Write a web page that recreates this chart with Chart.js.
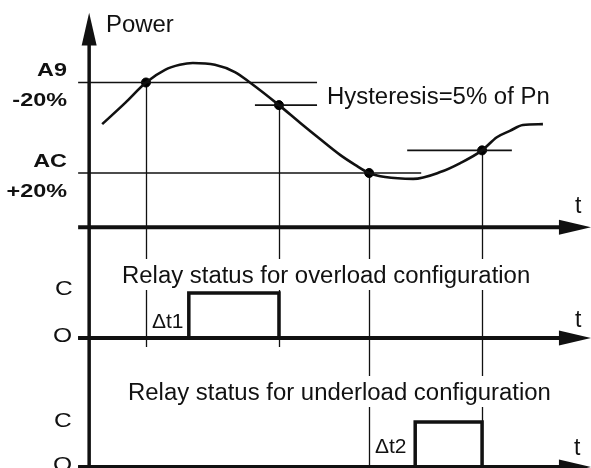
<!DOCTYPE html>
<html>
<head>
<meta charset="utf-8">
<script src="https://cdn.jsdelivr.net/npm/chart.js@4"></script>
<style>
  body { margin: 0; background: #fff; }
  #wrap { width: 591px; height: 468px; }
</style>
</head>
<body>
<div id="wrap"><canvas id="relayChart" width="591" height="468"></canvas></div>
<script>
// time axis (arbitrary units) and power in % of Pn
const timeMin = -18;
const timeMax = 100;
const powerTime = [2.4, 7.0, 11.15, 14.95, 17.9, 20.5, 24.9, 28.9, 31.9, 37.7, 41.9, 45.9, 49.9, 52.9, 55.7, 58.9, 64.5, 69.9, 73.9, 78.25, 81.2, 83.8, 86.4, 90.4];
const powerValues = [22.8, 27.5, 32.0, 34.8, 35.9, 36.3, 35.9, 34.3, 32.0, 27.0, 23.1, 19.5, 16.0, 13.8, 12.0, 11.1, 10.7, 12.2, 14.2, 17.0, 19.9, 21.3, 22.6, 22.8];

// setpoints
const setpointA9 = 32;
const setpointAC = 12;
const hysteresis = 5;
const thresholdValues = [setpointA9, setpointA9 - hysteresis, setpointAC, setpointAC + hysteresis];
const thresholdStart = [-2.4, 32.9, -2.4, 63.3];
const thresholdEnd = [45.3, 45.3, 66.1, 84.2];

// points where the curve crosses a threshold
const crossTime = [11.15, 37.7, 55.7, 78.25];
const crossValue = [32, 27, 12, 17];

// relay states (0 = O, 1 = C)
const overloadTime = [-2.4, 19.7, 19.7, 37.7, 37.7];
const overloadState = [0, 0, 1, 1, 0];
const underloadTime = [-2.4, 64.9, 64.9, 78.25, 78.25];
const underloadState = [0, 0, 1, 1, 0];

const ink = '#111';
const pts = (xs, ys) => xs.map((t, i) => ({ x: t, y: ys[i] }));

const thresholdSets = thresholdValues.map((v, i) => ({
  data: [{ x: thresholdStart[i], y: v }, { x: thresholdEnd[i], y: v }],
  yAxisID: 'yPower',
  showLine: true,
  borderColor: ink,
  borderWidth: 1.6,
  pointRadius: 0,
}));

// text helper, sx stretches the text horizontally
function label(ctx, text, x, y, font, align, sx, bg) {
  ctx.save();
  ctx.font = font;
  ctx.translate(x, y);
  ctx.scale(sx, 1);
  ctx.textAlign = align;
  ctx.textBaseline = 'alphabetic';
  if (bg) {
    const w = ctx.measureText(text).width;
    ctx.fillStyle = '#fff';
    ctx.fillRect(align === 'left' ? -2 : -w - 2, -24, w + 4, 31);
  }
  ctx.fillStyle = ink;
  ctx.fillText(text, 0, 0);
  ctx.restore();
}

function arrow(ctx, tipX, tipY, baseX, baseY, half) {
  const dx = tipX - baseX, dy = tipY - baseY;
  const len = Math.hypot(dx, dy);
  const nx = -dy / len * half, ny = dx / len * half;
  ctx.beginPath();
  ctx.moveTo(tipX, tipY);
  ctx.lineTo(baseX + nx, baseY + ny);
  ctx.lineTo(baseX - nx, baseY - ny);
  ctx.closePath();
  ctx.fill();
}

const diagram = {
  id: 'diagram',
  beforeDatasetsDraw(chart) {
    const { ctx, chartArea } = chart;
    const { x, yPower, yOver, yUnder } = chart.scales;
    ctx.save();
    ctx.strokeStyle = ink;
    ctx.fillStyle = ink;

    // vertical guides from crossings
    ctx.lineWidth = 1.3;
    crossTime.forEach((t, i) => {
      const px = Math.round(x.getPixelForValue(t)) + 0.5;
      const bottom = i < 2 ? yOver.getPixelForValue(-0.2) : chartArea.bottom;
      ctx.beginPath();
      ctx.moveTo(px, yPower.getPixelForValue(crossValue[i]));
      ctx.lineTo(px, bottom);
      ctx.stroke();
    });

    // time axes
    ctx.lineWidth = 4;
    [[yPower, 0], [yOver, 0], [yUnder, 0]].forEach(([s, v]) => {
      const py = s.getPixelForValue(v);
      ctx.beginPath();
      ctx.moveTo(x.getPixelForValue(-2.4), py);
      ctx.lineTo(x.getPixelForValue(94), py);
      ctx.stroke();
      arrow(ctx, x.getPixelForValue(timeMax), py, x.getPixelForValue(93.6), py, 7.5);
    });

    // power axis
    const ax = x.getPixelForValue(-0.2);
    ctx.lineWidth = 3.5;
    ctx.beginPath();
    ctx.moveTo(ax, chartArea.bottom);
    ctx.lineTo(ax, yPower.getPixelForValue(41));
    ctx.stroke();
    arrow(ctx, ax, yPower.getPixelForValue(47.4), ax, yPower.getPixelForValue(40.2), 7.5);
    ctx.restore();
  },
  afterDatasetsDraw(chart) {
    const { ctx } = chart;
    const { yPower, yOver, yUnder } = chart.scales;
    const reg = "23px 'Liberation Sans', Arial, sans-serif";
    const bold = "bold 18px 'Liberation Sans', Arial, sans-serif";
    const letter = "21px 'Liberation Sans', Arial, sans-serif";
    const a9 = yPower.getPixelForValue(setpointA9);
    const ac = yPower.getPixelForValue(setpointAC);

    label(ctx, 'Power', 106, 32, reg, 'left', 1.04);
    label(ctx, 'A9', 67, a9 - 6, bold, 'right', 1.3);
    label(ctx, '-20%', 67, a9 + 24, bold, 'right', 1.3);
    label(ctx, 'AC', 67, ac - 6, bold, 'right', 1.3);
    label(ctx, '+20%', 67, ac + 24, bold, 'right', 1.3);
    label(ctx, 'Hysteresis=5% of Pn', 327, 104, reg, 'left', 1.04);

    label(ctx, 't', 575, yPower.getPixelForValue(0) - 14, reg, 'left', 1);
    label(ctx, 't', 575, yOver.getPixelForValue(0) - 11, reg, 'left', 1);
    label(ctx, 't', 574, yUnder.getPixelForValue(0) - 12, reg, 'left', 1);

    label(ctx, 'Relay status for overload configuration', 122, 283, reg, 'left', 1.04, true);
    label(ctx, 'Relay status for underload configuration', 128, 400, reg, 'left', 1.04, true);

    label(ctx, 'C', 55, yOver.getPixelForValue(1) + 2, letter, 'left', 1.17);
    label(ctx, 'O', 53, yOver.getPixelForValue(0) + 4, letter, 'left', 1.17);
    label(ctx, 'C', 54, yUnder.getPixelForValue(1) + 5, letter, 'left', 1.17);
    label(ctx, 'O', 53, yUnder.getPixelForValue(0) + 4, letter, 'left', 1.17);

    label(ctx, '\u0394t1', 152, yOver.getPixelForValue(0) - 10, letter, 'left', 1);
    label(ctx, '\u0394t2', 375, yUnder.getPixelForValue(0) - 14, letter, 'left', 1);
  },
};

new Chart(document.getElementById('relayChart'), {
  type: 'scatter',
  data: {
    datasets: [
      ...thresholdSets,
      {
        data: pts(powerTime, powerValues),
        yAxisID: 'yPower',
        showLine: true,
        cubicInterpolationMode: 'monotone',
        borderColor: ink,
        borderWidth: 2.6,
        pointRadius: 0,
      },
      {
        data: pts(crossTime, crossValue),
        yAxisID: 'yPower',
        pointRadius: 4.5,
        backgroundColor: '#000',
        borderColor: '#000',
        borderWidth: 1,
      },
      {
        data: pts(overloadTime, overloadState),
        yAxisID: 'yOver',
        showLine: true,
        borderColor: ink,
        borderWidth: 3.5,
        pointRadius: 0,
      },
      {
        data: pts(underloadTime, underloadState),
        yAxisID: 'yUnder',
        showLine: true,
        borderColor: ink,
        borderWidth: 3.5,
        pointRadius: 0,
      },
    ],
  },
  options: {
    responsive: false,
    animation: false,
    layout: { padding: 0, autoPadding: false },
    plugins: {
      legend: { display: false },
      tooltip: { enabled: false },
    },
    scales: {
      x: { type: 'linear', min: timeMin, max: timeMax, display: false },
      yPower: { type: 'linear', min: -53.19, max: 50.23, display: false },
      yOver: { type: 'linear', min: -2.889, max: 7.511, display: false },
      yUnder: { type: 'linear', min: -0.022, max: 10.378, display: false },
    },
  },
  plugins: [diagram],
});
</script>
</body>
</html>
